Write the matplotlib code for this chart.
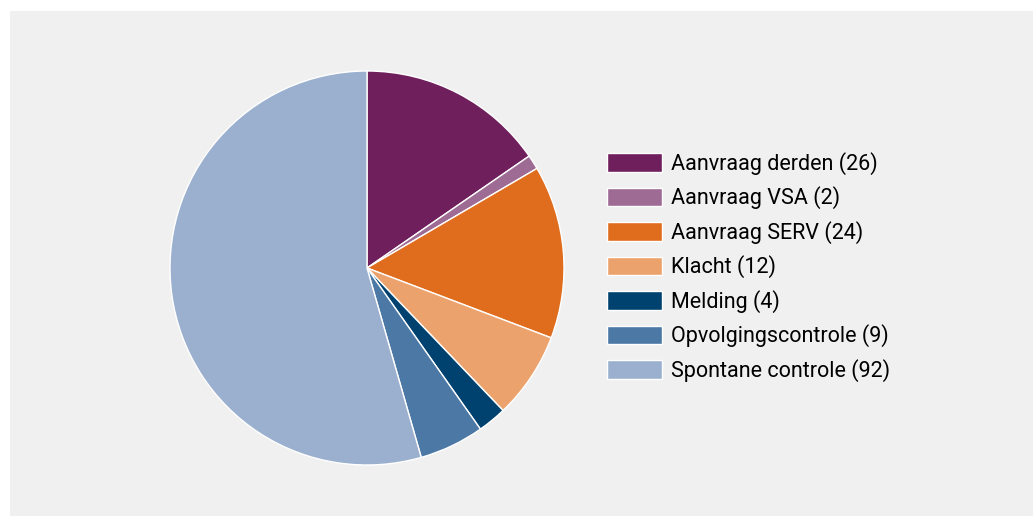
import matplotlib.pyplot as plt
from matplotlib.patches import Rectangle

# Data
categories = ['Aanvraag derden', 'Aanvraag VSA', 'Aanvraag SERV', 'Klacht',
              'Melding', 'Opvolgingscontrole', 'Spontane controle']
counts = [26, 2, 24, 12, 4, 9, 92]
colors = ['#6f1f5c', '#9d6b93', '#e06d1e', '#eca26c', '#00426f', '#4b78a5', '#9bb0cf']
labels = [f'{c} ({n})' for c, n in zip(categories, counts)]

plt.rcParams['font.family'] = ['Roboto', 'DejaVu Sans']

W, H = 1033, 516
fig = plt.figure(figsize=(W / 100, H / 100), dpi=100)
fig.patch.set_facecolor('white')

# grijze achtergrond
fig.patches.append(Rectangle((10 / W, 0), 1 - 10 / W, 1 - 11 / H,
                             transform=fig.transFigure, facecolor='#f0f0f0',
                             edgecolor='none', zorder=-10))

# pie
cx, cy, r = 367, 268, 197
ax = fig.add_axes([(cx - r) / W, (H - cy - r) / H, 2 * r / W, 2 * r / H])
ax.set_zorder(5)
wedges, _ = ax.pie(counts, colors=colors, startangle=90, counterclock=False,
                   wedgeprops=dict(edgecolor='white', linewidth=1))
ax.set_xlim(-1, 1)
ax.set_ylim(-1, 1)
ax.set_aspect('equal')
ax.axis('off')

# legenda
fs = 15.5
px = fs * 100 / 72
fig.legend(wedges, labels, loc='upper left',
           bbox_to_anchor=(607 / W, 1 - 152 / H), frameon=False,
           fontsize=fs, borderpad=0, borderaxespad=0,
           handlelength=55 / px, handleheight=20 / px,
           handletextpad=9 / px, labelspacing=11.5 / px)

fig.savefig('out.png', dpi=100)
